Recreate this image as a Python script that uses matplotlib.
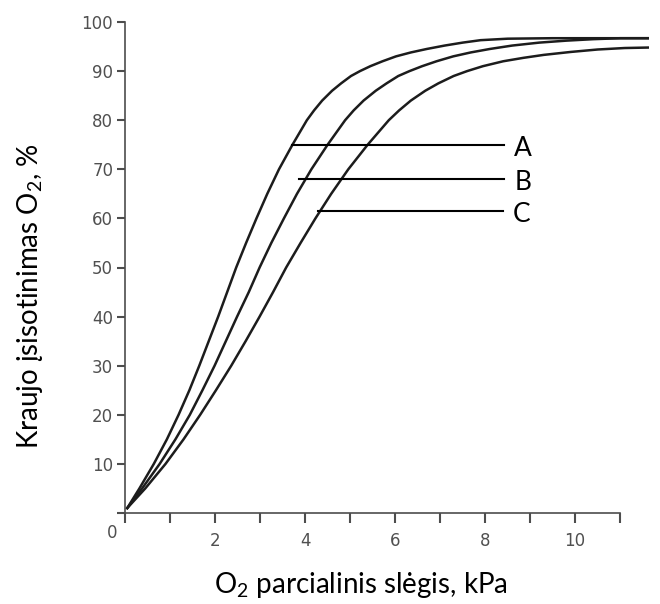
import matplotlib
matplotlib.use("Agg")
import matplotlib.pyplot as plt

# saturation curves (x in kPa, y in %)
a_x = [0.05, 0.32, 0.64, 0.93, 1.19, 1.43, 1.65, 1.86, 2.07, 2.27, 2.47, 2.69, 2.92, 3.16, 3.42, 3.72, 4.04, 4.2,
       4.38, 4.6, 4.8, 5.02, 5.22, 5.45, 5.72, 6.02, 6.35, 6.7, 7.1, 7.5, 7.9, 8.5, 9.5, 11.64]
a_y = [1, 5, 10, 15, 20, 25, 30, 35, 40, 45, 50, 55, 60, 65, 70, 75, 80, 82,
       84, 86, 87.5, 89, 90, 91, 92, 93, 93.8, 94.5, 95.2, 95.8, 96.3, 96.6, 96.7, 96.7]
b_x = [0.05, 0.38, 0.77, 1.12, 1.44, 1.72, 1.99, 2.24, 2.49, 2.75, 2.99, 3.25, 3.53, 3.82, 4.14, 4.50, 4.89, 5.08,
       5.30, 5.57, 5.81, 6.07, 6.32, 6.6, 6.92, 7.29, 7.68, 8.1, 8.6, 9.2, 9.8, 10.4, 11.0, 11.64]
b_y = [1, 5, 10, 15, 20, 25, 30, 35, 40, 45, 50, 55, 60, 65, 70, 75, 80, 82,
       84, 86, 87.5, 89, 90, 91, 92, 93, 93.8, 94.5, 95.2, 95.8, 96.2, 96.5, 96.7, 96.7]
c_x = [0.05, 0.45, 0.90, 1.30, 1.67, 2.02, 2.36, 2.68, 2.99, 3.29, 3.58, 3.90, 4.23, 4.58, 4.96, 5.39, 5.86, 6.09,
       6.35, 6.67, 6.96, 7.3, 7.6, 7.95, 8.4, 8.85, 9.3, 9.9, 10.5, 11.1, 11.64]
c_y = [1, 5, 10, 15, 20, 25, 30, 35, 40, 45, 50, 55, 60, 65, 70, 75, 80, 82,
       84, 86, 87.5, 89, 90, 91, 92, 92.7, 93.3, 93.9, 94.4, 94.7, 94.8]

# label leader lines: start x, end x, level, name
lab_x0 = [3.72, 3.87, 4.29]
lab_x1 = [8.43, 8.43, 8.39]
lab_y = [75, 68, 61.5]
lab_txt = ["A", "B", "C"]

x_ticks = list(range(0, 12))
x_labels = ["", "", "2", "", "4", "", "6", "", "8", "", "10", ""]
y_ticks = list(range(0, 101, 10))
y_labels = [""] + [str(v) for v in y_ticks[1:]]

txt_font = ["Lato", "DejaVu Sans"]
axis_col = "#4d4d4d"
line_col = "#1c1c1c"

fig = plt.figure(figsize=(6.6, 6.04), dpi=100)
ax = fig.add_axes([125 / 660, 91 / 604, 524 / 660, 491 / 604])

for xs, ys in [(a_x, a_y), (b_x, b_y), (c_x, c_y)]:
    ax.plot(xs, ys, color=line_col, lw=1.8, solid_joinstyle="round")

for x0, x1, y, t in zip(lab_x0, lab_x1, lab_y, lab_txt):
    ax.plot([x0, x1], [y, y], color="black", lw=1.5)
    ax.text(x1 + 0.22, y - 0.7, t, fontsize=19, family=txt_font, va="center", ha="left")

ax.set_xlim(0, 11.64)
ax.set_ylim(0, 100)
ax.spines["top"].set_visible(False)
ax.spines["right"].set_visible(False)
ax.spines["bottom"].set_bounds(0, 11)
ax.spines["left"].set_bounds(0, 100)
for s in ["bottom", "left"]:
    ax.spines[s].set_color(axis_col)
    ax.spines[s].set_linewidth(1.2)

ax.set_xticks(x_ticks)
ax.set_xticklabels(x_labels)
ax.set_yticks(y_ticks)
ax.set_yticklabels(y_labels)
ax.tick_params(axis="x", length=7, width=1.5, color=axis_col, labelcolor="#505050", labelsize=12, pad=7)
ax.tick_params(axis="y", length=5.5, width=1.5, color=axis_col, labelcolor="#505050", labelsize=12, pad=3)
ax.text(-0.17, -4.0, "0", fontsize=12, color="#505050", ha="right", va="center")

fig.text(361 / 660, 1 - 585 / 604, r"O$_\mathregular{2}$ parcialinis slėgis, kPa",
         fontsize=20, family=txt_font, ha="center", va="center")
fig.text(30 / 660, 1 - 296 / 604, r"Kraujo įsisotinimas O$_\mathregular{2}$, %",
         fontsize=20, family=txt_font, ha="center", va="center", rotation=90)

fig.savefig("out.png", dpi=100)
